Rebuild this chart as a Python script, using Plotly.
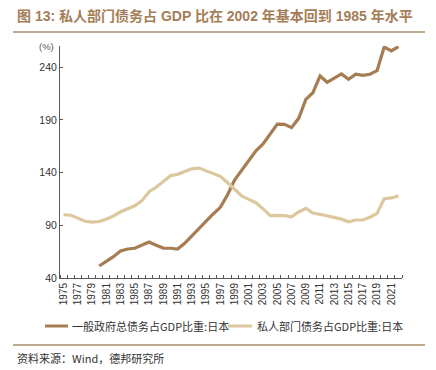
import plotly.graph_objects as go

years = list(range(1975, 2023))
gov_years = list(range(1980, 2023))
gov_debt = [51.4, 55.5, 60.2, 65.6, 67.5, 68.2, 71.3, 74.1, 71.0, 68.4,
            68.2, 67.5, 72.9, 79.8, 87.1, 94.3, 100.7, 107.0, 118.7, 132.9,
            142.4, 151.9, 160.7, 167.1, 177.2, 186.0, 185.7, 182.6, 191.4, 209.4,
            215.7, 231.6, 225.6, 229.4, 233.5, 228.4, 233.2, 232.2, 233.2, 236.6,
            259.0, 255.3, 259.5]
priv_debt = [100.0, 99.5, 96.8, 93.8, 92.9, 93.6, 95.8, 98.8, 102.8, 105.8,
             108.5, 113.3, 121.8, 126.0, 131.8, 137.0, 138.3, 140.8, 143.5, 144.2,
             141.6, 138.6, 136.4, 130.5, 123.8, 117.8, 114.6, 111.4, 105.6, 99.1,
             99.4, 99.2, 98.1, 102.6, 106.1, 101.6, 100.4, 99.0, 97.6, 95.8,
             93.3, 95.0, 95.0, 97.6, 101.3, 115.2, 115.9, 117.9]
y_ticks = [40, 90, 140, 190, 240]
x_ticks = list(range(1975, 2022, 2))

name_gov = "一般政府总债务占GDP比重:日本"
name_priv = "私人部门债务占GDP比重:日本"
title = "图 13: 私人部门债务占 GDP 比在 2002 年基本回到 1985 年水平"
source = "资料来源：Wind，德邦研究所"

W, H = 436, 370
L, R, T, B = 60, 34, 46, 92
PW, PH = W - L - R, H - T - B


def px(x):
    return (x - L) / PW


def py(y):
    return (H - B - y) / PH


FONT = "Liberation Sans, Noto Sans CJK SC, sans-serif"
CJK = "Noto Sans CJK SC, Liberation Sans, sans-serif"
DARK = "#A67C52"
LIGHT = "#DCC79E"
AXIS = "#595959"

fig = go.Figure()
fig.add_trace(go.Scatter(x=gov_years, y=gov_debt, mode="lines", name=name_gov,
                         line=dict(color=DARK, width=3.2), showlegend=False))
fig.add_trace(go.Scatter(x=years, y=priv_debt, mode="lines", name=name_priv,
                         line=dict(color=LIGHT, width=3.2), showlegend=False))

fig.update_layout(
    width=W, height=H,
    margin=dict(l=L, r=R, t=T, b=B, autoexpand=False),
    paper_bgcolor="white", plot_bgcolor="white",
    font=dict(family=FONT, color="#333333", size=11),
    showlegend=False,
    xaxis=dict(range=[1974.5, 2022.5], tickmode="array", tickvals=x_ticks,
               ticktext=[str(v) for v in x_ticks], tickangle=-90,
               ticks="", showgrid=False, zeroline=False,
               showline=True, linecolor=AXIS, linewidth=1,
               tickfont=dict(size=10, color="#333333"),
               minor=dict(tickmode="linear", tick0=1974.5, dtick=1, ticks="inside",
                          ticklen=3, tickcolor=AXIS, tickwidth=1, showgrid=False)),
    yaxis=dict(range=[40, 260], tickmode="array", tickvals=y_ticks,
               ticks="inside", ticklen=3, tickcolor=AXIS, showgrid=False,
               zeroline=False, showline=True, linecolor=AXIS, linewidth=1,
               tickfont=dict(size=10.5, color="#333333")),
)

# legend drawn as line samples + text
legend_items = [(name_gov, DARK, 45, 68, 70), (name_priv, LIGHT, 228, 252, 255)]
for name, color, x0, x1, xt in legend_items:
    fig.add_shape(type="line", xref="paper", yref="paper", x0=px(x0), x1=px(x1),
                  y0=py(326), y1=py(326), line=dict(color=color, width=3))
    fig.add_annotation(text=name, xref="paper", yref="paper", x=px(xt), y=py(326),
                       xanchor="left", yanchor="middle", showarrow=False,
                       font=dict(size=11, color="#333333", family=CJK))

fig.add_annotation(text=title, xref="paper", yref="paper", x=px(15), y=py(16),
                   xanchor="left", yanchor="middle", showarrow=False,
                   font=dict(size=14, color="#A47E57", family=FONT, weight="bold"))
fig.add_annotation(text="(%)", xref="paper", yref="paper", x=px(46), y=py(47),
                   xanchor="center", yanchor="middle", showarrow=False,
                   font=dict(size=9.5, color="#555555"))
fig.add_annotation(text=source, xref="paper", yref="paper", x=px(15), y=py(358),
                   xanchor="left", yanchor="middle", showarrow=False,
                   font=dict(size=11, color="#333333", family=CJK))

fig.add_shape(type="line", xref="paper", yref="paper", x0=px(13), x1=px(425),
              y0=py(32), y1=py(32), line=dict(color="#A88B68", width=1.5))
fig.add_shape(type="line", xref="paper", yref="paper", x0=px(13), x1=px(425),
              y0=py(345), y1=py(345), line=dict(color="#A88B68", width=1.5))

fig.write_html("out.html", config={"displayModeBar": False},
               post_script="document.body.style.margin='0';")
